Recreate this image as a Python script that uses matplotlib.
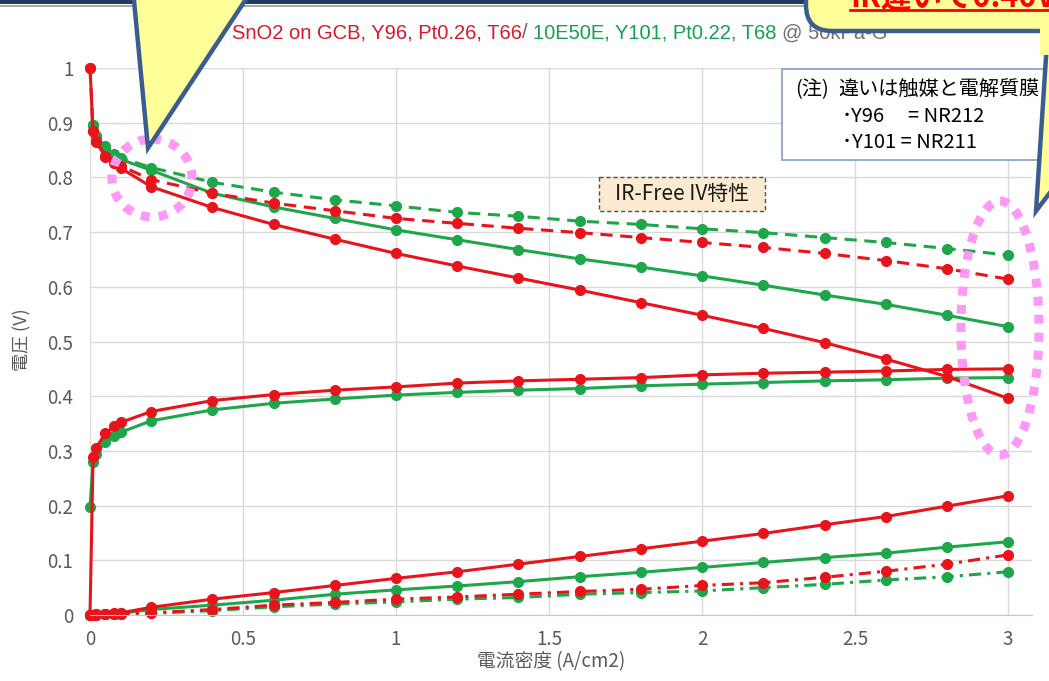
import numpy as np
import matplotlib
matplotlib.use("Agg")
import matplotlib.pyplot as plt
from matplotlib.patches import Ellipse, Polygon, Rectangle, FancyBboxPatch

plt.rcParams['font.family'] = ['Noto Sans CJK JP', 'DejaVu Sans']

# current density (A/cm2)
current = [0, 0.01, 0.02, 0.05, 0.08, 0.1, 0.2, 0.4, 0.6, 0.8, 1.0, 1.2, 1.4,
           1.6, 1.8, 2.0, 2.2, 2.4, 2.6, 2.8, 3.0]

# SnO2 on GCB, Y96 (red)
red_iv = [1.0, 0.884, 0.865, 0.838, 0.826, 0.817, 0.783, 0.745, 0.714, 0.687, 0.661,
          0.638, 0.616, 0.594, 0.571, 0.548, 0.524, 0.498, 0.468, 0.436, 0.396]
red_irfree = [1.0, 0.884, 0.866, 0.840, 0.829, 0.821, 0.796, 0.771, 0.753, 0.739, 0.725,
              0.716, 0.707, 0.699, 0.690, 0.681, 0.672, 0.661, 0.648, 0.633, 0.614]
red_act = [0.0, 0.288, 0.306, 0.332, 0.345, 0.352, 0.372, 0.392, 0.403, 0.411, 0.417,
           0.424, 0.428, 0.431, 0.434, 0.439, 0.442, 0.444, 0.446, 0.449, 0.450]
red_ir = [0.0, 0.0, 0.001, 0.002, 0.003, 0.004, 0.014, 0.029, 0.041, 0.054, 0.067,
          0.079, 0.093, 0.107, 0.121, 0.135, 0.149, 0.165, 0.180, 0.199, 0.218]
red_conc = [0.0, 0.0, 0.0, 0.001, 0.002, 0.002, 0.004, 0.010, 0.018, 0.023, 0.029,
            0.033, 0.038, 0.043, 0.047, 0.054, 0.059, 0.069, 0.080, 0.093, 0.110]

# 10E50E, Y101 (green)
green_iv = [np.nan, 0.895, 0.875, 0.855, 0.840, 0.833, 0.813, 0.771, 0.746, 0.725, 0.704,
            0.686, 0.668, 0.651, 0.636, 0.620, 0.603, 0.585, 0.568, 0.548, 0.527]
green_irfree = [np.nan, 0.896, 0.876, 0.857, 0.842, 0.836, 0.818, 0.791, 0.773, 0.759, 0.748,
                0.736, 0.729, 0.720, 0.714, 0.706, 0.699, 0.690, 0.681, 0.670, 0.658]
green_act = [0.198, 0.280, 0.294, 0.317, 0.327, 0.334, 0.355, 0.375, 0.387, 0.395, 0.402,
             0.407, 0.411, 0.414, 0.419, 0.422, 0.425, 0.428, 0.430, 0.433, 0.434]
green_ir = [0.0, 0.0, 0.001, 0.002, 0.002, 0.003, 0.010, 0.018, 0.027, 0.038, 0.046,
            0.053, 0.061, 0.070, 0.078, 0.087, 0.096, 0.105, 0.113, 0.124, 0.134]
green_conc = [0.0, 0.0, 0.0, 0.001, 0.001, 0.002, 0.003, 0.008, 0.015, 0.020, 0.024,
              0.029, 0.032, 0.038, 0.041, 0.044, 0.050, 0.056, 0.064, 0.070, 0.079]

x_ticks = [0, 0.5, 1, 1.5, 2, 2.5, 3]
x_tick_labels = ["0", "0.5", "1", "1.5", "2", "2.5", "3"]
y_ticks = [0, 0.1, 0.2, 0.3, 0.4, 0.5, 0.6, 0.7, 0.8, 0.9, 1.0]
y_tick_labels = ["0", "0.1", "0.2", "0.3", "0.4", "0.5", "0.6", "0.7", "0.8", "0.9", "1"]

RED = "#E8141C"
GREEN = "#1DA64A"
GRAY = "#595959"

W, H = 1049, 681
fig = plt.figure(figsize=(W / 100, H / 100), dpi=100)
fig.patch.set_facecolor("white")

ax = fig.add_axes([90 / W, 1 - 615 / H, 942 / W, 547 / H])
ax.set_xlim(0, 3.078)
ax.set_ylim(0, 1.0)
ax.set_xticks(x_ticks)
ax.set_xticklabels(x_tick_labels)
ax.set_yticks(y_ticks)
ax.set_yticklabels(y_tick_labels)
ax.tick_params(length=0, labelsize=13.5, colors=GRAY)
ax.tick_params(axis="y", pad=12)
ax.tick_params(axis="x", pad=10)
ax.grid(True, color="#D9D9D9", lw=1.0)
ax.set_axisbelow(True)
for s in ("top", "right", "left"):
    ax.spines[s].set_visible(False)
ax.spines["bottom"].set_color("#C8C8C8")

lw = 2.2
ms = 7
dash = (0, (4, 2.5))
dashdot = (0, (4, 2, 1, 2))

series = [
    (green_iv, GREEN, "-"), (green_irfree, GREEN, dash), (green_act, GREEN, "-"),
    (green_ir, GREEN, "-"), (green_conc, GREEN, dashdot),
    (red_iv, RED, "-"), (red_irfree, RED, dash), (red_act, RED, "-"),
    (red_ir, RED, "-"), (red_conc, RED, dashdot),
]
for vals, col, ls in series:
    ax.plot(current, vals, color=col, ls=ls, lw=lw, marker="o", ms=ms,
            mfc=col, mec=col, clip_on=False)

# title line in three colours
tfont = dict(fontsize=14.5, family=["Liberation Sans"])
t1 = fig.text(232 / W, 1 - 33 / H, "SnO2 on GCB, Y96, Pt0.26, T66", color="#D71A2A",
              va="center", ha="left", **tfont)
t2 = ax.annotate("/ ", xy=(1, 0), xycoords=t1, va="bottom", ha="left", color="#606060",
                 annotation_clip=False, **tfont)
t3 = ax.annotate("10E50E, Y101, Pt0.22, T68 ", xy=(1, 0), xycoords=t2, va="bottom", ha="left",
                 color="#16A050", annotation_clip=False, **tfont)
t4 = ax.annotate("@ 50kPa-G", xy=(1, 0), xycoords=t3, va="bottom", ha="left",
                 color="#707070", annotation_clip=False, **tfont)

fig.text(22 / W, 1 - 340 / H, "電圧 (V)", rotation=90, ha="center", va="center",
         fontsize=13, color=GRAY)
fig.text(551 / W, 1 - 662 / H, "電流密度 (A/cm2)", ha="center", va="center",
         fontsize=13.5, color=GRAY)

# overlay in pixel coordinates for slide decorations
ov = fig.add_axes([0, 0, 1, 1])
ov.set_xlim(0, W)
ov.set_ylim(H, 0)
ov.axis("off")
ov.patch.set_alpha(0)

NAVY = "#3B5C8E"
YELLOW = "#FFFF99"
PINK = "#FF99F5"

ov.add_patch(Rectangle((0, 0), W, 3.5, color="#1F3A60", lw=0))
ov.add_patch(Rectangle((0, 4.5), W, 2, color="#A8A8A8", lw=0))

# note box
ov.add_patch(Rectangle((782, 69), 300, 91, facecolor="white", edgecolor="#8EA6C8", lw=1.3))
ov.text(795, 90, "(注)", fontsize=14.5, color="black", va="center", ha="left")
ov.text(838, 90, "違いは触媒と電解質膜", fontsize=14.5, color="black", va="center", ha="left")
ov.text(842, 116, "･Y96", fontsize=14.5, color="black", va="center", ha="left")
ov.text(908, 116, "= NR212", fontsize=14.5, color="black", va="center", ha="left")
ov.text(842, 142, "･Y101 = NR211", fontsize=14.5, color="black", va="center", ha="left")

# IR-free label box
ov.add_patch(Rectangle((599, 177), 166, 34, facecolor="#FCEBD1", edgecolor="#505050",
                       lw=1.0, ls=(0, (3, 2))))
ov.text(682, 194, "IR-Free IV特性", fontsize=15, color="#1A1A1A", va="center", ha="center")

# highlight ellipses
ov.add_patch(Ellipse((152, 178), 80, 78, fill=False, edgecolor=PINK, lw=6.5,
                     ls=(0, (1, 1))))
ov.add_patch(Ellipse((1000, 328), 78, 254, fill=False, edgecolor=PINK, lw=6.5,
                     ls=(0, (1, 1))))

# callouts
ov.add_patch(Polygon([(133, -10), (148, 148), (252, -10)], closed=True,
                     facecolor=YELLOW, edgecolor=NAVY, lw=3.2, joinstyle="miter"))
ov.add_patch(FancyBboxPatch((806, -80), 300, 111, boxstyle="round,pad=0,rounding_size=26",
                            facecolor=YELLOW, edgecolor=NAVY, lw=3.2))
ov.add_patch(Polygon([(1052, 28), (1047, 42), (1036, 211), (1052, 190)], closed=True,
                     facecolor=YELLOW, edgecolor=NAVY, lw=3.2, joinstyle="miter"))
ov.add_patch(Rectangle((1040, 25), 20, 30, facecolor=YELLOW, lw=0))
ov.text(850, 7, "IR違いで0.40V", fontsize=22, fontweight="bold", color="#FF0000",
        va="baseline", ha="left")
ov.plot([850, 1060], [10, 10], color="#FF0000", lw=2)

fig.savefig("out.png", dpi=100, facecolor="white")
